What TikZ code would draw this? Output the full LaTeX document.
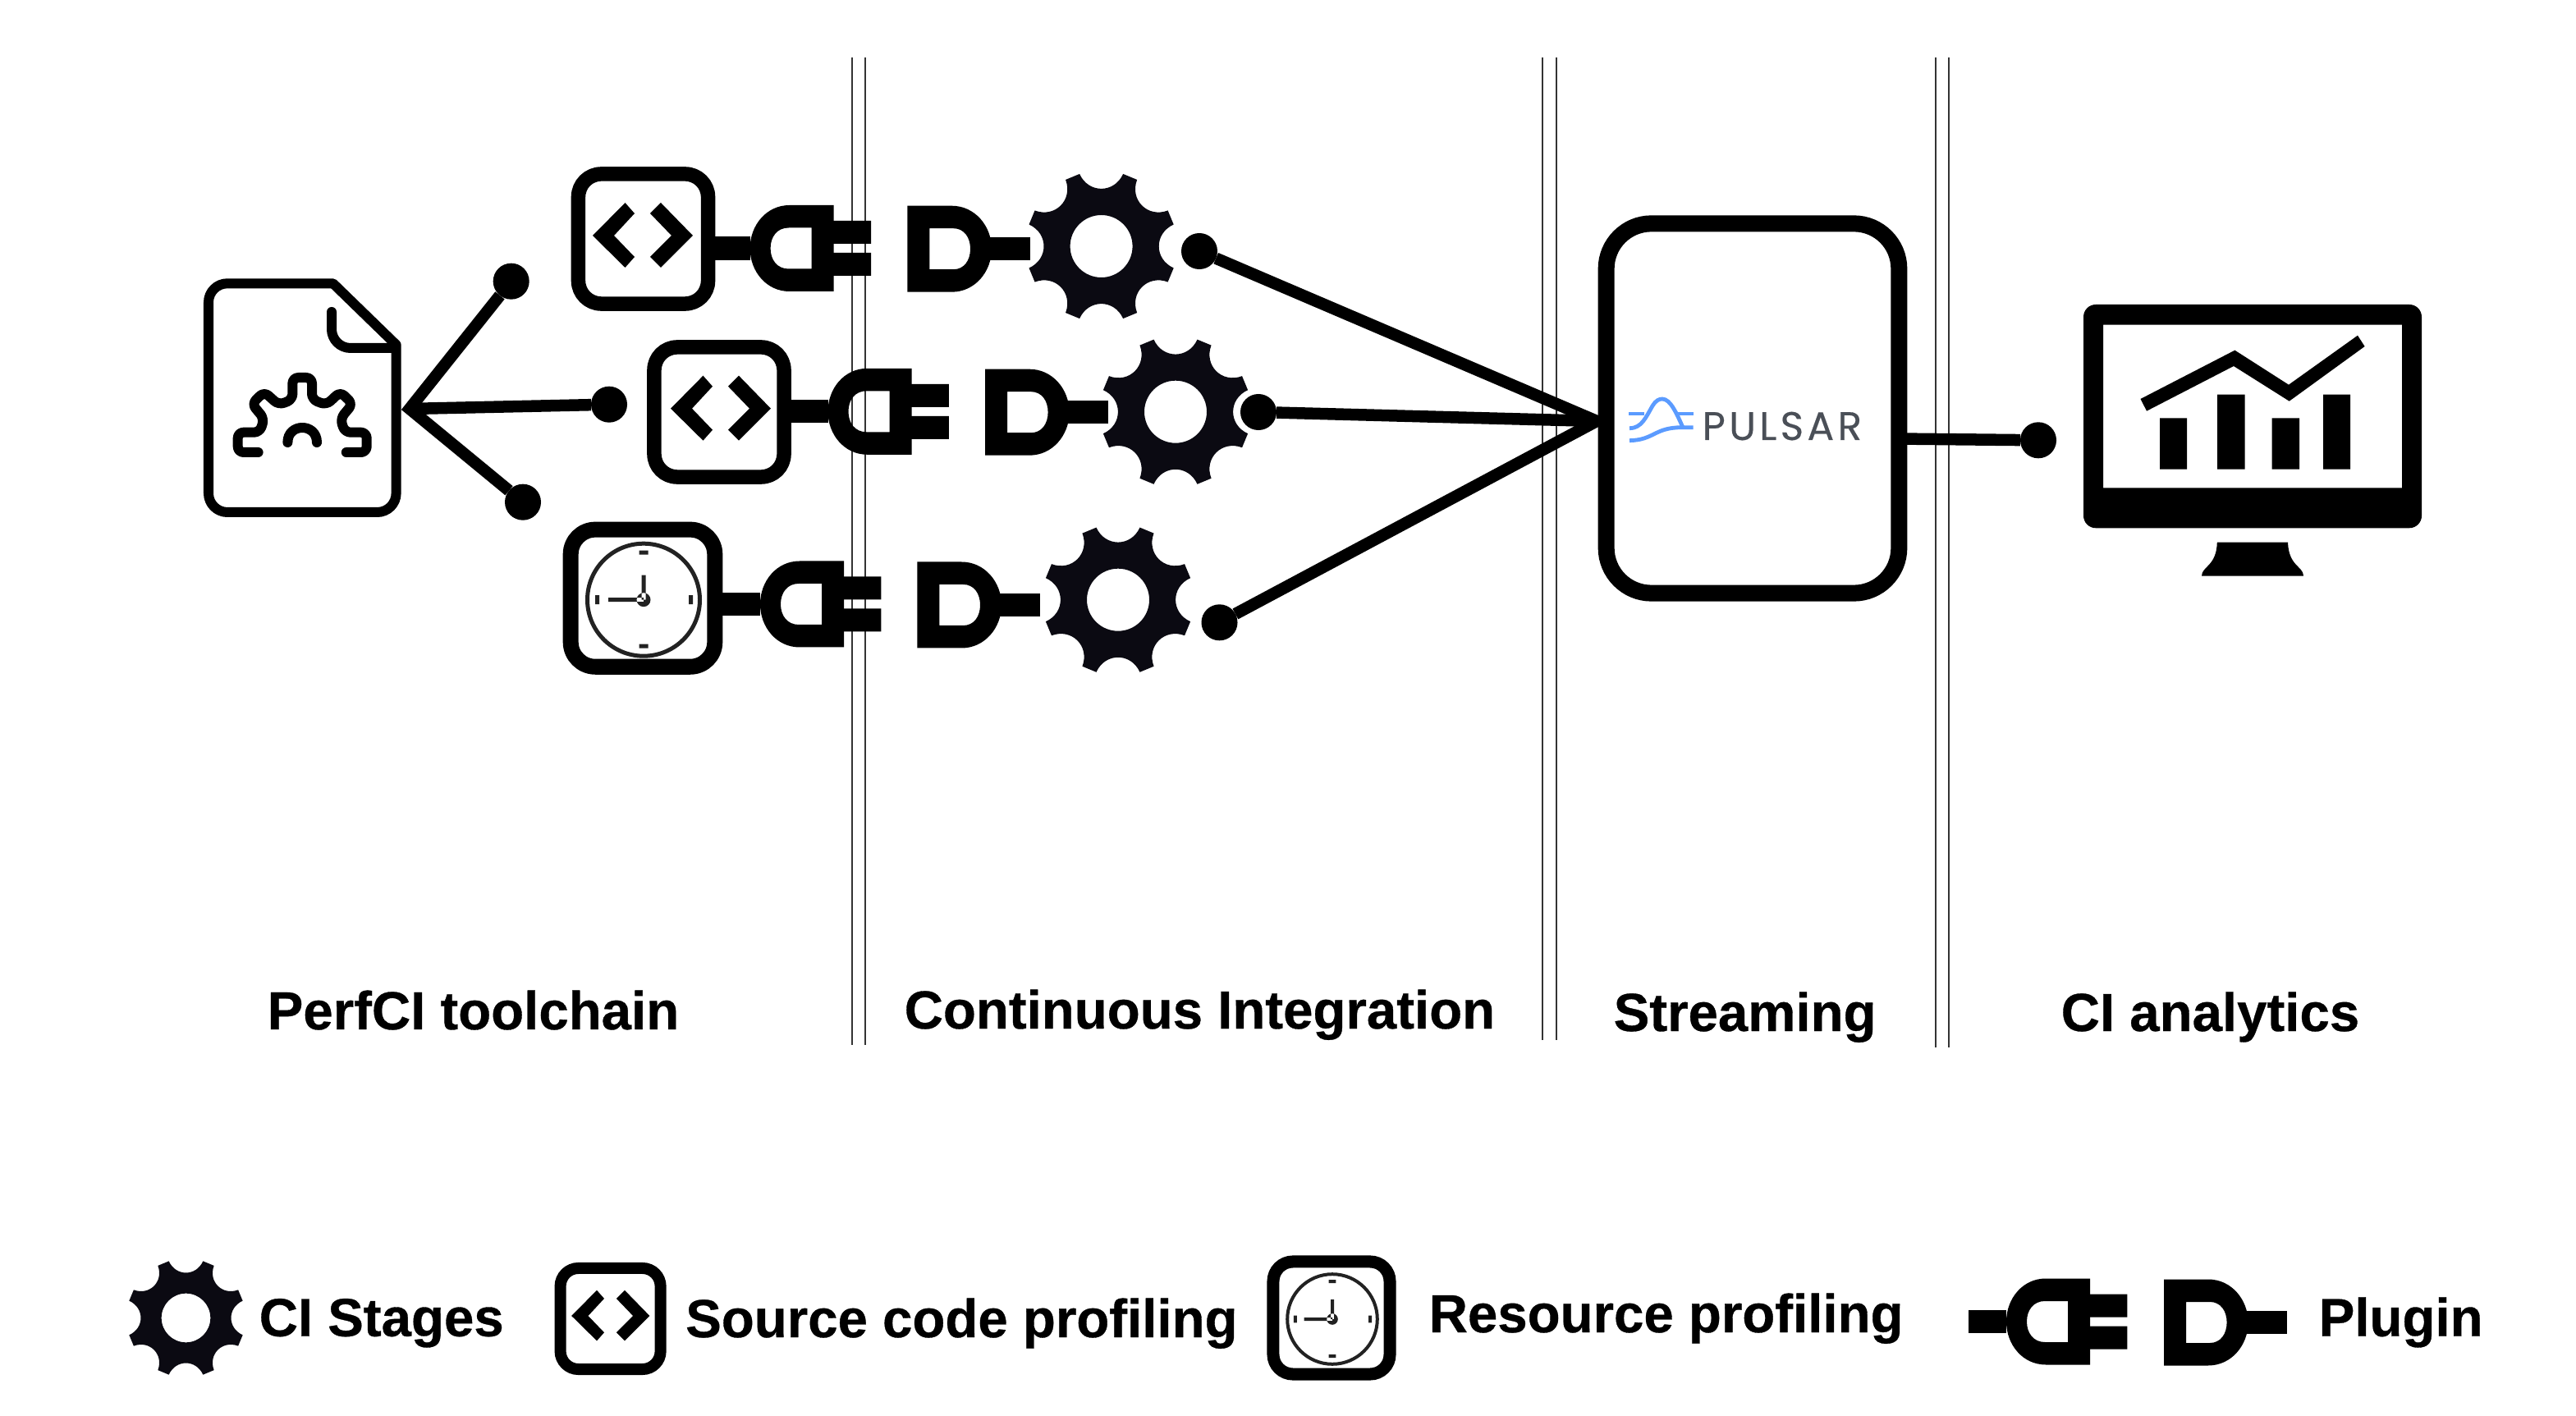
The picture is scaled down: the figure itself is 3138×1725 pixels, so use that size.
\documentclass[tikz,border=0pt]{standalone}
\usepackage{fontspec}
\setmainfont{Liberation Sans}[BoldFeatures={FakeBold=0.5}]
\newfontfamily\logofont[LetterSpace=9,FakeBold=0.3]{Poppins}
\definecolor{gearink}{HTML}{0B0A12}
\definecolor{clockink}{HTML}{222222}
\definecolor{logoblue}{HTML}{5B9BFF}
\definecolor{logogray}{HTML}{4A4F57}
\tikzset{
  divider/.style={draw=black!80, line width=.02cm},
  link/.style={draw=black, line width=.145cm},
  stub/.style={draw=black, line width=.28cm},
  tap/.style={circle, fill=black, minimum size=.44cm, inner sep=0pt, outer sep=0pt},
  codebox/.style={draw=black, fill=white, line width=.175cm, rounded corners=.28cm, minimum width=1.58cm, minimum height=1.58cm, inner sep=0pt},
  legendcode/.style={draw=black, fill=white, line width=.14cm, rounded corners=.22cm, minimum width=1.22cm, minimum height=1.23cm, inner sep=0pt},
  clockbox/.style={draw=black, fill=white, line width=.19cm, rounded corners=.3cm, minimum width=1.755cm, minimum height=1.67cm, inner sep=0pt},
  legendclock/.style={draw=black, fill=white, line width=.15cm, rounded corners=.24cm, minimum width=1.42cm, minimum height=1.37cm, inner sep=0pt},
  pulsarbox/.style={draw=black, fill=white, line width=.2cm, rounded corners=.55cm, minimum width=3.565cm, minimum height=4.5cm, inner sep=0pt},
  docline/.style={draw=black, line width=.12cm, line cap=round, line join=round},
  logoline/.style={draw=logoblue, line width=.048cm},
  caption/.style={font=\fontsize{18.6}{22}\selectfont\bfseries, anchor=base west, inner sep=0pt},
  logotext/.style={font=\logofont\fontsize{13.8}{16}\selectfont, text=logogray, anchor=base west, inner sep=0pt},
  gearicon/.pic={
    \fill[gearink, even odd rule] (16.75:92)
      \foreach \a in {22.5,67.5,...,337.5} {
        -- ({\a+5.75}:92) .. controls ({\a+8.75}:66) and ({\a+36.25}:66) .. ({\a+39.25}:92)
      } -- cycle (0,0) circle (38);
  },
  chevrons/.pic={
    \fill (-61,0) -- (-21.5,-40) -- (-10,-27) -- (-35,0) -- (-10,26) -- (-21.5,39) -- cycle;
    \fill (61,0) -- (22,-40) -- (9,-27) -- (35,0) -- (9,26) -- (22,39) -- cycle;
  },
  clockicon/.pic={
    \fill[clockink, even odd rule] (0,0) circle (71) (0,0) circle (66);
    \fill[clockink] (-5.5,-60) rectangle (5.5,-55) (-5.5,54) rectangle (5.5,59);
    \fill[clockink] (-59,-5.5) rectangle (-54,5.5) (55,-5.5) rectangle (60,5.5);
    \fill[clockink] (-2.5,-30) rectangle (2.5,0) (-43,-2.5) rectangle (0,2.5) (0,0) circle (8.5);
  },
  plugicon/.pic={
    \fill[even odd rule] (102,-52.5) -- (48,-52.5) .. controls (20,-52.5) and (0,-28) .. (0,0)
      .. controls (0,28) and (20,52.5) .. (48,52.5) -- (102,52.5) -- cycle
      (75,-25) -- (47,-25) .. controls (33,-25) and (25,-14) .. (25,0)
      .. controls (25,14) and (33,25) .. (47,25) -- (75,25) -- cycle;
    \fill (101,-33.5) rectangle (147.4,-5.5) (101,5.5) rectangle (147.4,33.5);
  },
  sockicon/.pic={
    \fill[even odd rule] (0,-52.5) -- (54,-52.5) .. controls (82,-52.5) and (102.6,-28) .. (102.6,0)
      .. controls (102.6,28) and (82,52.5) .. (54,52.5) -- (0,52.5) -- cycle
      (27,-25) -- (56,-25) .. controls (69,-25) and (76.6,-14) .. (76.6,0)
      .. controls (76.6,14) and (69,25) .. (56,25) -- (27,25) -- cycle;
    \fill (100,-14) rectangle (150,14);
  }
}
\begin{document}
\begin{tikzpicture}[x=.01cm, y=-.01cm]
\useasboundingbox (0,0) rectangle (3138,1725);
\foreach \x/\y in {1038/1273,1054/1273,1879/1267,1896/1267,2357.5/1276,2374/1276}
  \draw[divider] (\x,70) -- (\x,\y);

\coordinate (hub) at (499,498);
\coordinate (apex) at (1945,513);
\coordinate (pulsarout) at (2320,534.6);
\node[tap] (tapA) at (622.7,342.7) {};
\node[tap] (tapB) at (742,492.7) {};
\node[tap] (tapC) at (637,611.7) {};
\node[tap] (stageA) at (1461,306) {};
\node[tap] (stageB) at (1533,502) {};
\node[tap] (stageC) at (1485.5,758.3) {};
\node[tap] (sink) at (2483,536.3) {};
\draw[link] (tapA) -- (hub) -- (tapC);
\draw[link] (hub) -- (tapB);
\draw[link] (stageA) -- (apex) -- (stageC);
\draw[link] (stageB) -- (apex);
\draw[link] (pulsarout) -- (sink);

\draw[docline] (482.6,420) -- (405.7,345.3) [rounded corners=.23cm] -- (254,345.3) -- (254,624) -- (482.6,624) -- (482.6,420);
\draw[docline, rounded corners=.23cm] (404,380) -- (404,424) -- (482,424);
\draw[docline, rounded corners=.07cm] (314.6,551) -- (289.7,551) -- (289.7,526.7) -- (316.4,526.7) -- (321.8,510) -- (306.8,492) -- (321.8,477.3) -- (339.6,493.3) -- (356.4,486.7) -- (356.4,460) -- (380,460) -- (380,486.7) -- (397.5,493.3) -- (414.6,477.3) -- (429.6,492) -- (414.6,510) -- (420,526.7) -- (446.7,526.7) -- (446.7,551) -- (421.8,551);
\draw[docline] (350.4,539) .. controls (350.4,515) and (386,515) .. (386,539);

\node[codebox] (codeA) at (783.5,291) {};
\node[codebox] (codeB) at (876,502) {};
\node[clockbox] (clockC) at (783,728.7) {};
\pic at (783,287) {chevrons};
\pic at (878,497.7) {chevrons};
\pic at (784,730.7) {clockicon};
\coordinate (plugA) at (913.6,302.5);
\coordinate (plugB) at (1008.5,501.3);
\coordinate (plugC) at (926,736);
\draw[stub] (codeA.east |- plugA) -- (plugA);
\draw[stub] (codeB.east |- plugB) -- (plugB);
\draw[stub] (clockC.east |- plugC) -- (plugC);
\pic at (plugA) {plugicon};
\pic at (plugB) {plugicon};
\pic at (plugC) {plugicon};
\pic at (1105.4,303.2) {sockicon};
\pic at (1200,502.2) {sockicon};
\pic at (1117.4,737) {sockicon};
\pic at (1341.6,300) {gearicon};
\pic at (1432,501.7) {gearicon};
\pic at (1362,730.7) {gearicon};

\node[pulsarbox] (pulsar) at (2135,497.5) {};
\draw[logoline] (1984.3,504) -- (2003.3,504) (2041.7,504) -- (2062.7,504);
\draw[logoline] (1985,521.7) .. controls (2000,521.7) and (2005,508) .. (2013.3,494) .. controls (2017,488) and (2021,486) .. (2025,486) .. controls (2035,486) and (2043,505) .. (2050,520.7);
\draw[logoline] (1985,536.7) .. controls (2015,536) and (2015,521) .. (2048,520.7) -- (2062.7,520.7);
\node[logotext] (logoname) at (2073,536) {PULSAR};

\fill[even odd rule] [rounded corners=.15cm] (2538,371) rectangle (2950,643.3) [sharp corners] (2562,395.7) rectangle (2926,594.3);
\fill (2700.8,660.7) -- (2787,660.7) .. controls (2788,690) and (2806,690) .. (2806,701.7) -- (2682,701.7) .. controls (2682,690) and (2700,690) .. (2700.8,660.7) -- cycle;
\fill (2631,509.3) rectangle (2664,571.7) (2701,480.7) rectangle (2734.6,571.7) (2767.7,509.3) rectangle (2801,571.7) (2830,480.7) rectangle (2863,571.7);
\fill (2607.5,486) -- (2722.4,426.7) -- (2788,468.7) -- (2872,408.7) -- (2880.6,422) -- (2788.7,488.7) -- (2721,446) -- (2615,500.7) -- cycle;

\node[caption] (titleTool) at (325,1254) {PerfCI toolchain};
\node[caption] (titleCi) at (1101,1253) {Continuous Integration};
\node[caption] (titleStream) at (1965,1256) {Streaming};
\node[caption] (titleShow) at (2510,1256) {CI analytics};

\pic[scale=.785] at (226.5,1605.5) {gearicon};
\node[caption] (keyStages) at (315,1627.7) {CI Stages};
\node[legendcode] (keyCode) at (743.6,1606.5) {};
\pic[scale=.78] at (743.8,1603) {chevrons};
\node[caption] (keyCodeText) at (834.5,1629) {Source code profiling};
\node[legendclock] (keyClock) at (1622,1605.5) {};
\pic[scale=.8] at (1623,1607) {clockicon};
\node[caption] (keyClockText) at (1740,1623) {Resource profiling};
\coordinate (keyPlug) at (2444,1610);
\coordinate (keyFree) at (2398,1610);
\draw[stub] (keyFree) -- (keyPlug);
\pic at (keyPlug) {plugicon};
\pic at (2636,1611) {sockicon};
\node[caption] (keyPlugText) at (2824,1627.7) {Plugin};
\end{tikzpicture}
\end{document}
